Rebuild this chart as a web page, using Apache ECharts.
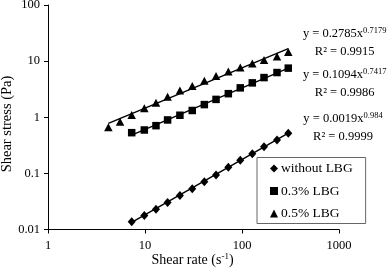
<!DOCTYPE html>
<html>
<head>
<meta charset="utf-8">
<script src="https://cdn.jsdelivr.net/npm/echarts@6/dist/echarts.min.js"></script>
<style>html,body{margin:0;padding:0;background:#fff}#c{width:387px;height:272px}</style>
</head>
<body>
<div id="c"></div>
<script>
// Data
const shearRate = [7.29, 9.84, 12.98, 17.1, 22.9, 30.7, 40.9, 54.0, 72.3, 96.0, 127.7, 168.6, 229.6, 300];
const shearRate05 = [4.19, 5.53, 7.29, 9.84, 12.98, 17.1, 22.9, 30.7, 40.9, 54.0, 72.3, 96.0, 127.7, 168.6, 229.6, 300];
const stressWithout = [0.0137, 0.0178, 0.0230, 0.0303, 0.0405, 0.0531, 0.0708, 0.094, 0.128, 0.171, 0.224, 0.299, 0.393, 0.518];
const stress03 = [0.531, 0.593, 0.708, 0.895, 1.086, 1.32, 1.68, 2.08, 2.63, 3.34, 4.10, 5.09, 6.26, 7.50];
const stress05 = [0.663, 0.834, 1.10, 1.45, 1.82, 2.33, 2.99, 3.62, 4.45, 5.46, 6.52, 7.69, 9.10, 10.5, 12.1, 14.5];
// Trendline end points (power-law fits)
const trendWithout = [[7.29, 0.0134], [300, 0.52]];
const trend03 = [[7.29, 0.48], [300, 7.5]];
const trend05 = [[4.19, 0.78], [300, 16.7]];
const seriesNames = ['without LBG', '0.3% LBG', '0.5% LBG'];
const equations = [
  ['0.2785', '0.7179', '0.9915'],
  ['0.1094', '0.7417', '0.9986'],
  ['0.0019', '0.984', '0.9999']
];
const xTicks = [1, 10, 100, 1000];
const yTicks = [0.01, 0.1, 1, 10, 100];
const xTitle = 'Shear rate (s{sup|-1})';
const yTitle = 'Shear stress (Pa)';

const FONT = '"Liberation Serif", "Times New Roman", serif';
const zip = (xs, ys) => xs.map((x, i) => [x, ys[i]]);

const chart = echarts.init(document.getElementById('c'), null, {renderer: 'canvas'});

function eqText(i, cx, y1, y2) {
  const e = equations[i];
  return [
    {type: 'text', x: cx, y: y1, style: {
      text: '{n|y = ' + e[0] + 'x}{s|' + e[1] + '}',
      textAlign: 'center', textVerticalAlign: 'middle', fill: '#000',
      rich: {n: {fontFamily: FONT, fontSize: 12.5, fill: '#000'},
             s: {fontFamily: FONT, fontSize: 8.5, fill: '#000', verticalAlign: 'top', padding: [0, 0, 6, 0]}}
    }},
    {type: 'text', x: cx, y: y2, style: {
      text: 'R² = ' + e[2], textAlign: 'center', textVerticalAlign: 'middle',
      fontFamily: FONT, fontSize: 12.5, fill: '#000'
    }}
  ];
}

const axisCommon = {
  type: 'log', logBase: 10,
  axisLine: {show: true, lineStyle: {color: '#000', width: 1}},
  axisTick: {show: true, inside: false, length: 4, lineStyle: {color: '#000'}},
  minorTick: {show: false},
  splitLine: {show: false},
  axisLabel: {color: '#000', fontFamily: FONT, fontSize: 12.5, margin: 8}
};

chart.setOption({
  animation: false,
  backgroundColor: '#fff',
  grid: {left: 48, top: 5, right: 48, bottom: 42.5, containLabel: false, outerBoundsMode: 'none'},
  xAxis: Object.assign({}, axisCommon, {
    min: xTicks[0], max: xTicks[xTicks.length - 1],
    axisLabel: Object.assign({}, axisCommon.axisLabel, {margin: 10, formatter: v => String(v)})
  }),
  yAxis: Object.assign({}, axisCommon, {
    min: yTicks[0], max: yTicks[yTicks.length - 1],
    axisLabel: Object.assign({}, axisCommon.axisLabel, {margin: 8, formatter: v => String(+v.toPrecision(3))})
  }),
  legend: {
    data: seriesNames,
    orient: 'vertical',
    left: 257, top: 157.5,
    padding: [4, 13, 3, 13],
    itemGap: 8.5,
    itemWidth: 8, itemHeight: 8,
    borderColor: '#666', borderWidth: 1,
    backgroundColor: '#fff',
    textStyle: {color: '#000', fontFamily: FONT, fontSize: 13.5, lineHeight: 14, padding: [0, 0, 0, -2]},
    selectedMode: false
  },
  series: [
    {name: 'trend0', type: 'line', data: trendWithout, symbol: 'none', silent: true,
     lineStyle: {color: '#000', width: 1.4}, z: 2},
    {name: 'trend03', type: 'line', data: trend03, symbol: 'none', silent: true,
     lineStyle: {color: '#000', width: 1.4}, z: 2},
    {name: 'trend05', type: 'line', data: trend05, symbol: 'none', silent: true,
     lineStyle: {color: '#000', width: 1.4}, z: 2},
    {name: seriesNames[0], type: 'scatter', data: zip(shearRate, stressWithout),
     symbol: 'diamond', symbolSize: [8, 9], itemStyle: {color: '#000', opacity: 1}, z: 3},
    {name: seriesNames[1], type: 'scatter', data: zip(shearRate, stress03),
     symbol: 'rect', symbolSize: 7.5, itemStyle: {color: '#000', opacity: 1}, z: 3},
    {name: seriesNames[2], type: 'scatter', data: zip(shearRate05, stress05),
     symbol: 'triangle', symbolSize: [8.5, 8], itemStyle: {color: '#000', opacity: 1}, z: 3}
  ],
  graphic: [].concat(
    eqText(0, 344.7, 34, 52),
    eqText(1, 344.7, 75, 93),
    eqText(2, 343, 119, 137),
    [
      {type: 'text', x: 192.5, y: 260, style: {
        text: xTitle, textAlign: 'center', textVerticalAlign: 'middle',
        rich: {sup: {fontFamily: FONT, fontSize: 9, fill: '#000', verticalAlign: 'top', padding: [0, 0, 7, 0]}},
        fontFamily: FONT, fontSize: 14, fill: '#000'}},
      {type: 'text', x: 7.5, y: 124, rotation: Math.PI / 2, style: {
        text: yTitle, textAlign: 'center', textVerticalAlign: 'middle',
        fontFamily: FONT, fontSize: 14.5, fill: '#000'}}
    ]
  )
});
</script>
</body>
</html>
